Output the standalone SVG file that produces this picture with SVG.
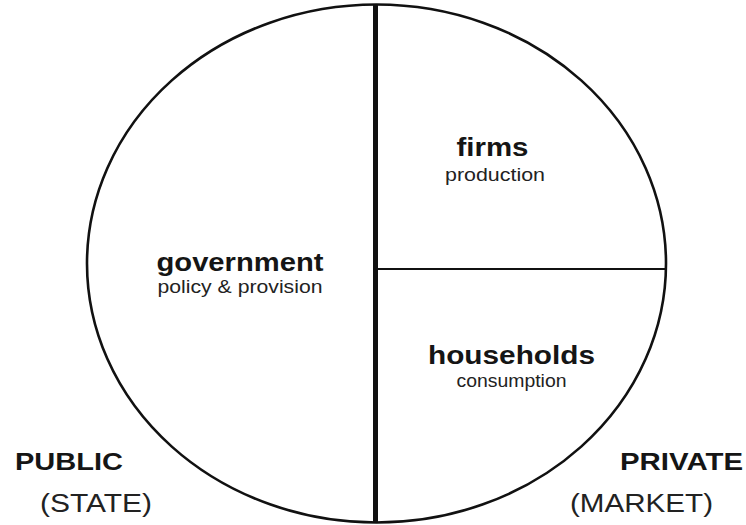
<svg xmlns="http://www.w3.org/2000/svg" width="746" height="525" viewBox="0 0 746 525">
  <style>
    .bg { fill: #ffffff; }
    .outline { fill: none; stroke: #111; stroke-width: 2.6; }
    .divider-main { stroke: #111; stroke-width: 5; }
    .divider-sub { stroke: #111; stroke-width: 2.2; }
    .title { font-family: "Liberation Sans", Arial, sans-serif; font-weight: bold; font-size: 25px; fill: #151515; }
    .sub { font-family: "Liberation Sans", Arial, sans-serif; font-size: 18px; fill: #222; }
    .side-title { font-family: "Liberation Sans", Arial, sans-serif; font-weight: bold; font-size: 24px; fill: #151515; }
    .side-sub { font-family: "Liberation Sans", Arial, sans-serif; font-size: 25px; fill: #222; }
  </style>

  <rect class="bg" x="0" y="0" width="746" height="525"/>

  <!-- outer economy ellipse -->
  <g id="economy">
    <ellipse class="outline" cx="376.5" cy="263.5" rx="289.5" ry="259"/>
  </g>

  <!-- dividing lines between the sectors -->
  <g id="connectors">
    <line class="divider-main" x1="375.5" y1="4" x2="375.5" y2="523"/>
    <line class="divider-sub" x1="375.5" y1="269" x2="666" y2="269"/>
  </g>

  <g id="government">
    <text class="title" x="156.5" y="271" textLength="167" lengthAdjust="spacingAndGlyphs">government</text>
    <text class="sub" x="157.5" y="293" textLength="165" lengthAdjust="spacingAndGlyphs">policy &amp; provision</text>
  </g>

  <g id="firms">
    <text class="title" x="456.5" y="156" textLength="72" lengthAdjust="spacingAndGlyphs">firms</text>
    <text class="sub" x="445" y="181" textLength="100" lengthAdjust="spacingAndGlyphs">production</text>
  </g>

  <g id="households">
    <text class="title" x="428" y="364" textLength="167" lengthAdjust="spacingAndGlyphs">households</text>
    <text class="sub" x="456.5" y="387" textLength="110" lengthAdjust="spacingAndGlyphs">consumption</text>
  </g>

  <g id="public">
    <text class="side-title" x="15" y="470" textLength="108" lengthAdjust="spacingAndGlyphs">PUBLIC</text>
    <text class="side-sub" x="40" y="512" textLength="112" lengthAdjust="spacingAndGlyphs">(STATE)</text>
  </g>

  <g id="private">
    <text class="side-title" x="620" y="470" textLength="123" lengthAdjust="spacingAndGlyphs">PRIVATE</text>
    <text class="side-sub" x="570" y="512" textLength="143" lengthAdjust="spacingAndGlyphs">(MARKET)</text>
  </g>
</svg>
